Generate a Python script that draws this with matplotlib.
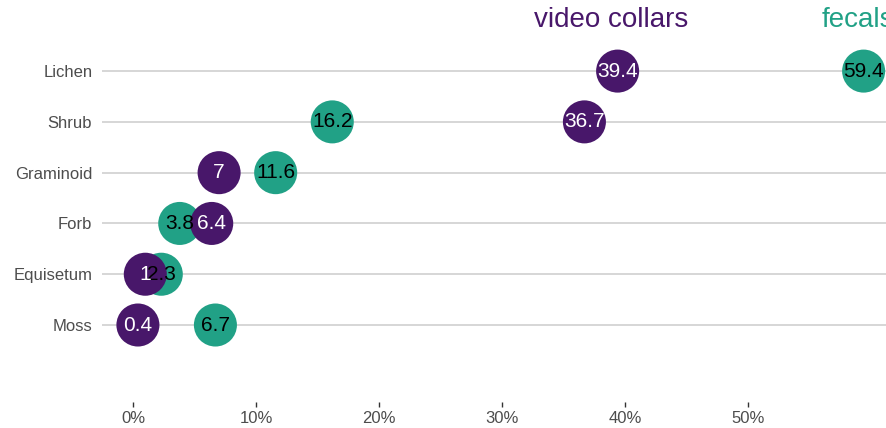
import numpy as np
import matplotlib
matplotlib.use("Agg")
import matplotlib.pyplot as plt
from matplotlib.ticker import FuncFormatter

plt.rcParams['font.family'] = ['Liberation Sans', 'DejaVu Sans']

# data (percent of diet)
categories = ['Lichen', 'Shrub', 'Graminoid', 'Forb', 'Equisetum', 'Moss']
video = [39.4, 36.7, 7, 6.4, 1, 0.4]
fecals = [59.4, 16.2, 11.6, 3.8, 2.3, 6.7]
video_labels = ['39.4', '36.7', '7', '6.4', '1', '0.4']
fecal_labels = ['59.4', '16.2', '11.6', '3.8', '2.3', '6.7']
xticks = [0, 0.1, 0.2, 0.3, 0.4, 0.5]

purple = '#48176A'
teal = '#21A186'
grey_txt = '#4D4D4D'

ypos = np.arange(len(categories), 0, -1)  # Lichen on top

fig = plt.figure(figsize=(8.87, 4.28), dpi=100)
ax = fig.add_axes([102/887, 26/428, 785/887, 402/428])

for y in ypos:
    ax.axhline(y, color='#D0D0D0', lw=1.2, zorder=0)

vx = np.array(video) / 100
fx = np.array(fecals) / 100
ax.scatter(fx, ypos, s=960, color=teal, edgecolors='none', zorder=2)
ax.scatter(vx, ypos, s=960, color=purple, edgecolors='none', zorder=3)

for x, y, lab in zip(fx, ypos, fecal_labels):
    ax.text(x, y, lab, ha='center', va='center', fontsize=15, color='black', zorder=4)
for x, y, lab in zip(vx, ypos, video_labels):
    ax.text(x, y, lab, ha='center', va='center', fontsize=15, color='white', zorder=5)

# series labels above the top row (the right one runs off the edge, as in the original)
ax.text(0.389, 7.0, 'video collars', ha='center', va='center', fontsize=20, color=purple)
ax.text(0.589, 7.0, 'fecals', ha='center', va='center', fontsize=20, color=teal)

ax.set_xlim(-0.0252, 0.613)
ax.set_ylim(-0.516, 7.4)
ax.set_xticks(xticks)
ax.xaxis.set_major_formatter(FuncFormatter(lambda v, p: f'{v*100:.0f}%'))
ax.set_yticks(ypos)
ax.set_yticklabels(categories)
ax.tick_params(axis='x', length=3.5, width=1, color='#333333', labelsize=12, labelcolor=grey_txt, pad=3)
ax.tick_params(axis='y', length=0, labelsize=12, labelcolor=grey_txt, pad=7)
for s in ax.spines.values():
    s.set_visible(False)

fig.savefig('out.png', dpi=100)
